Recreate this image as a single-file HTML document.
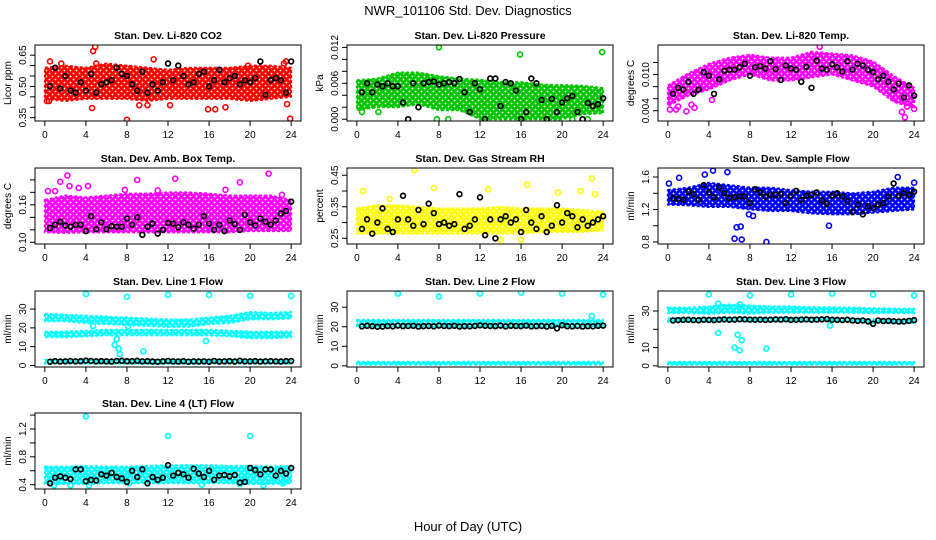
<!DOCTYPE html>
<html><head><meta charset="utf-8"><style>
html,body{margin:0;padding:0;background:#fff;}
svg{display:block;font-family:"Liberation Sans",Arial,sans-serif;}
</style></head><body>
<svg id="chart" width="936" height="540" viewBox="0 0 936 540" xmlns="http://www.w3.org/2000/svg">
<defs id="defs"></defs>
<text x="468" y="15" text-anchor="middle" font-size="13">NWR_101106  Std. Dev. Diagnostics</text>
<text x="468" y="531" text-anchor="middle" font-size="13">Hour of Day (UTC)</text>
</svg>
<script>
const bandHours=[0,2,4,6,8,10,12,14,16,18,20,22,24];
const blackHours=[0.5,1,1.5,2,2.5,3,3.5,4,4.5,5,5.5,6,6.5,7,7.5,8,8.5,9,9.5,10,10.5,11,11.5,12,12.5,13,13.5,14,14.5,15,15.5,16,16.5,17,17.5,18,18.5,19,19.5,20,20.5,21,21.5,22,22.5,23,23.5,24];
const xTicks=[0,4,8,12,16,20,24];

// Panel 1 CO2
const p1Lo=[0.44,0.43,0.44,0.44,0.44,0.43,0.44,0.44,0.44,0.44,0.43,0.44,0.45];
const p1Hi=[0.59,0.6,0.59,0.61,0.6,0.59,0.58,0.59,0.59,0.59,0.6,0.6,0.59];
const p1OutX=[0.2,0.4,4.6,4.7,4.9,5.0,8.0,9.2,10.0,10.6,12.2,15.9,16.6,17.6,19.8,23.3,23.5,23.6,23.9,0.5,1.6];
const p1OutY=[0.43,0.43,0.396,0.67,0.69,0.61,0.34,0.41,0.41,0.63,0.41,0.39,0.39,0.40,0.60,0.61,0.62,0.415,0.345,0.62,0.61];
const p1Black=[0.50,0.59,0.49,0.55,0.48,0.47,0.52,0.48,0.56,0.47,0.51,0.52,0.53,0.59,0.56,0.55,0.51,0.48,0.57,0.47,0.51,0.48,0.52,0.61,0.53,0.60,0.55,0.51,0.52,0.56,0.57,0.50,0.53,0.58,0.52,0.54,0.55,0.51,0.53,0.52,0.54,0.62,0.46,0.53,0.54,0.53,0.47,0.62];
// Panel 2 Pressure
const p2Lo=[0.0015,0.002,0.002,0.0025,0.0015,0.0015,0,0,0,0,0,0.0008,0.001];
const p2Hi=[0.0065,0.0068,0.0078,0.0078,0.0072,0.0068,0.0066,0.0062,0.0062,0.0058,0.0057,0.0056,0.0052];
const p2OutX=[8.0,15.9,23.9,7.8,8.9,0.5,2.1,22.5,21.0,19.5];
const p2OutY=[0.012,0.0108,0.0112,0,0,0.0012,0.0012,0,0,0];
const p2Black=[0.0045,0.006,0.0045,0.0058,0.0055,0.006,0.0055,0.0055,0.0028,0.0,0.006,0.002,0.006,0.0062,0.0063,0.0058,0.006,0.0062,0.006,0.0067,0.0045,0.0012,0.006,0.005,0.0,0.0068,0.0068,0.0022,0.0062,0.006,0.0048,0.0,0.0012,0.0068,0.006,0.0032,0.0,0.0034,0.0012,0.0028,0.0035,0.0039,0.0012,0.0,0.0027,0.0022,0.0025,0.0035];
// Panel 3 Li-820 Temp
const p3Lo=[0.0048,0.0065,0.0075,0.009,0.01,0.009,0.009,0.0095,0.01,0.009,0.008,0.0055,0.0045];
const p3Hi=[0.0082,0.0102,0.0118,0.0128,0.0133,0.0128,0.0128,0.0138,0.0135,0.0132,0.0122,0.0098,0.0078];
const p3OutX=[0.2,0.8,1.0,1.8,2.3,2.6,22.8,23.1,23.3,24.0,14.8,4.3];
const p3OutY=[0.0042,0.0042,0.0047,0.0039,0.005,0.0045,0.0038,0.0029,0.0047,0.0043,0.0146,0.0058];
const p3Black=[0.0068,0.0078,0.0075,0.0088,0.0068,0.0075,0.0104,0.0098,0.0068,0.0092,0.0106,0.0108,0.0108,0.0112,0.0118,0.0098,0.0112,0.0114,0.011,0.0122,0.0109,0.0091,0.0115,0.011,0.0108,0.0088,0.0113,0.0078,0.0123,0.011,0.0108,0.0117,0.0112,0.0105,0.0122,0.0108,0.0118,0.0115,0.0108,0.0104,0.0092,0.0098,0.0088,0.0075,0.0085,0.0062,0.0082,0.0065];
// Panel 4 Amb Box Temp
const p4Lo=[0.116,0.115,0.116,0.116,0.116,0.116,0.116,0.116,0.116,0.116,0.118,0.118,0.118];
const p4Hi=[0.168,0.175,0.172,0.175,0.178,0.178,0.18,0.18,0.178,0.175,0.175,0.175,0.168];
const p4OutX=[1.5,2.2,2.4,3.3,9.0,12.7,19.0,21.8,23.1,0.3,7.8,11.0,17.6,4.2,1.0];
const p4OutY=[0.197,0.207,0.19,0.187,0.2,0.202,0.196,0.21,0.176,0.182,0.184,0.183,0.184,0.19,0.182];
const p4Black=[0.123,0.128,0.133,0.127,0.125,0.128,0.128,0.118,0.142,0.121,0.132,0.121,0.126,0.125,0.125,0.138,0.128,0.14,0.112,0.125,0.13,0.114,0.12,0.131,0.13,0.124,0.132,0.128,0.122,0.128,0.142,0.13,0.12,0.128,0.118,0.135,0.129,0.12,0.144,0.132,0.127,0.138,0.133,0.128,0.135,0.146,0.15,0.165];
// Panel 5 RH
const p5Lo=[0.265,0.265,0.265,0.265,0.265,0.265,0.265,0.265,0.265,0.27,0.27,0.27,0.275];
const p5Hi=[0.345,0.355,0.355,0.35,0.345,0.345,0.345,0.35,0.345,0.345,0.345,0.34,0.335];
const p5OutX=[5.6,22.9,16.6,7.5,0.6,12.8,21.8,16.0,14.0,19.6,23.2,3.2];
const p5OutY=[0.466,0.44,0.42,0.41,0.40,0.405,0.40,0.245,0.245,0.395,0.39,0.375];
const p5Black=[0.28,0.31,0.265,0.3,0.345,0.28,0.27,0.31,0.385,0.31,0.29,0.34,0.295,0.36,0.33,0.295,0.3,0.29,0.295,0.39,0.28,0.29,0.31,0.38,0.26,0.31,0.25,0.31,0.32,0.3,0.31,0.27,0.34,0.3,0.28,0.32,0.27,0.29,0.355,0.3,0.33,0.32,0.285,0.31,0.29,0.3,0.31,0.32];
// Panel 6 Sample Flow
const p6Lo=[1.26,1.25,1.23,1.23,1.2,1.18,1.18,1.15,1.14,1.14,1.16,1.18,1.2];
const p6Hi=[1.44,1.47,1.53,1.5,1.47,1.47,1.44,1.42,1.42,1.4,1.42,1.47,1.47];
const p6OutX=[6.5,6.7,7.1,7.2,9.6,15.7,4.4,5.8,22.4,0.1,1.1,3.6,7.9,8.3,24.0];
const p6OutY=[0.84,0.98,0.99,0.83,0.8,1.0,1.68,1.66,1.6,1.52,1.59,1.63,1.14,1.12,1.53];
const p6Black=[1.34,1.33,1.32,1.42,1.39,1.32,1.5,1.41,1.35,1.47,1.4,1.34,1.35,1.36,1.36,1.28,1.45,1.41,1.36,1.38,1.38,1.39,1.28,1.37,1.43,1.32,1.37,1.38,1.41,1.31,1.27,1.37,1.4,1.36,1.3,1.17,1.26,1.14,1.24,1.22,1.26,1.28,1.36,1.52,1.37,1.4,1.38,1.42];
// Panel 7 Line 1
const p7ALo=[23.5,23.5,22.5,22,21.5,21,20.5,20.5,22,22.5,24.5,24.5,25];
const p7AHi=[27.5,27,26.5,26,25.5,25,24.5,24.5,25.5,26.5,28.5,28,28.5];
const p7BLo=[15,15,15.5,16,16,16,16,16,16,15.5,14.5,14.5,15];
const p7BHi=[18,18,18.5,19,19,19,19,19,19,18.5,18,18,18];
const p7CLo=[1.0,1.0,1.0,1.0,1.0,1.0,1.0,1.0,1.0,1.0,1.0,1.0,1.0];
const p7CHi=[3.0,3.0,3.0,3.0,3.0,3.0,3.0,3.0,3.0,3.0,3.0,3.0,3.0];
const p7OutX=[4,8,12,16,20,24,6.8,7.0,7.2,7.3,9.6,15.7,8.1,4.7];
const p7OutY=[38,36.5,37.5,37.5,37,37,11,14,9,6,7.5,13,21,21];
const p7Black=[2,2.3,2.1,2.2,2.4,2.2,2.3,2.6,2.4,2.2,2.3,2.2,2.1,2.4,2.5,2.3,2.3,2.5,2.2,2.3,2.1,2,2.2,2.4,2.2,2.1,2.3,2,2.2,2.1,2.2,2,2.4,2.1,2.2,2.3,2.1,2.5,2.2,2.2,2.3,2.1,2.2,2.3,2.2,2.1,2.3,2.4];
// Panel 8 Line 2
const p8ALo=[19.8,19.8,19.8,19.8,19.8,19.8,19.8,19.8,19.8,19.8,19.8,19.8,19.8];
const p8AHi=[23.5,23.5,23.5,23.5,23.5,23.5,23.5,23.5,23.5,23.5,23.5,23.5,23.5];
const p8CLo=[0.6,0.6,0.6,0.6,0.6,0.6,0.6,0.6,0.6,0.6,0.6,0.6,0.6];
const p8CHi=[2.0,2.0,2.0,2.0,2.0,2.0,2.0,2.0,2.0,2.0,2.0,2.0,2.0];
const p8OutX=[4,8,12,16,20,24,22.9];
const p8OutY=[37,35.5,37,37.5,37,36.5,25.5];
const p8Black=[20.2,20.5,20.3,20,20.1,20.4,20.2,20.6,20.3,20.4,20.5,20.1,20.3,20.4,20.2,20.6,20.4,20.3,20.5,20.1,20.3,20.2,20.4,20.7,20.5,20.4,20.3,20.6,20.2,20.5,20.4,20.3,20.6,20.2,20.3,20.4,20.1,20.5,19.2,20.8,20.3,20.2,20.4,20.1,20.3,20.2,20.5,20.6];
// Panel 9 Line 3
const p9ALo=[28.8,28.8,28.5,29,28.5,29,29,29,29,29,28.8,28.8,28.8];
const p9AHi=[31.8,31.8,32.5,33.5,33,32.5,32.5,32,32,31.8,31.5,31.3,31.3];
const p9BLo=[24,24,24.2,24.3,24.3,24.3,24.3,24.3,24.2,24,23.5,23.3,23.5];
const p9BHi=[26,26,26,26.2,26.2,26.2,26.2,26.2,26,25.8,25.5,25.2,25.5];
const p9CLo=[0.6,0.6,0.6,0.6,0.6,0.6,0.6,0.6,0.6,0.6,0.6,0.6,0.6];
const p9CHi=[2.2,2.2,2.2,2.2,2.2,2.2,2.2,2.2,2.2,2.2,2.2,2.2,2.2];
const p9OutX=[4,8,12,16,20,24,4.9,6.5,6.8,7.0,7.2,9.6,15.8,4.9,7.0,5.3];
const p9OutY=[39,38.5,39,39.5,39,38.5,18,10,17,8.5,14,9.5,22,34,33.5,32];
const p9Black=[24.8,25,25.1,25.2,25,24.9,25.2,25.1,25,25.2,25.4,25.2,25.3,25.5,25.4,25.3,25.2,25.3,25.1,25.2,25.4,25.3,25.5,25.1,25.2,25.3,25.4,25.2,25.3,25.4,25.6,25.2,25.1,25,25.2,24.8,24.6,24.8,24.3,23,24.8,24.5,24.6,24.4,24.2,24.3,24.6,25];
// Panel 10 Line 4
const p10Lo=[0.41,0.41,0.41,0.42,0.42,0.42,0.42,0.42,0.42,0.42,0.41,0.41,0.42];
const p10Hi=[0.66,0.66,0.67,0.66,0.66,0.67,0.68,0.68,0.68,0.67,0.67,0.66,0.67];
const p10OutX=[4,12,20,0.9,2.5,4.3,8.2,15.3,19.0,21.3,23.2];
const p10OutY=[1.38,1.1,1.1,0.39,0.39,0.39,0.42,0.4,0.41,0.39,0.42];
const p10Black=[0.42,0.5,0.52,0.5,0.48,0.62,0.62,0.45,0.47,0.46,0.55,0.53,0.57,0.51,0.49,0.44,0.6,0.51,0.62,0.42,0.51,0.47,0.5,0.68,0.53,0.57,0.55,0.5,0.63,0.56,0.51,0.6,0.47,0.53,0.54,0.52,0.54,0.43,0.44,0.64,0.61,0.55,0.62,0.62,0.53,0.6,0.56,0.64];

const NS="http://www.w3.org/2000/svg";
const svg=document.getElementById('chart');
const defs=document.getElementById('defs');
const W=266,H=76;
const panels=[
 {key:'co2',title:'Stan. Dev. Li-820 CO2',yl:'Licor ppm',L:35,T:45,ymin:0.334,ymax:0.699,col:'#ff0000',ticks:[0.35,0.4,0.45,0.5,0.55,0.6,0.65],labs:['0.35','','','0.50','','','0.65'],bands:[[p1Lo,p1Hi]],ox:p1OutX,oy:p1OutY,blk:p1Black},
 {key:'pressure',title:'Stan. Dev. Li-820 Pressure',yl:'kPa',L:347,T:45,ymin:-0.0003,ymax:0.0124,col:'#00c400',ticks:[0,0.002,0.004,0.006,0.008,0.01,0.012],labs:['0.000','','','0.006','','','0.012'],bands:[[p2Lo,p2Hi]],ox:p2OutX,oy:p2OutY,blk:p2Black},
 {key:'li820-temp',title:'Stan. Dev. Li-820 Temp.',yl:'degrees C',L:658,T:45,ymin:0.0023,ymax:0.0149,col:'#ff00ff',ticks:[0.004,0.006,0.008,0.01,0.012],labs:['0.004','','','0.010',''],bands:[[p3Lo,p3Hi]],ox:p3OutX,oy:p3OutY,blk:p3Black},
 {key:'amb-box-temp',title:'Stan. Dev. Amb. Box Temp.',yl:'degrees C',L:35,T:168,ymin:0.0973,ymax:0.219,col:'#ff00ff',ticks:[0.1,0.12,0.14,0.16,0.18,0.2],labs:['0.10','','','0.16','',''],bands:[[p4Lo,p4Hi]],ox:p4OutX,oy:p4OutY,blk:p4Black},
 {key:'gas-rh',title:'Stan. Dev. Gas Stream RH',yl:'percent',L:347,T:168,ymin:0.232,ymax:0.473,col:'#ffff00',ticks:[0.25,0.3,0.35,0.4,0.45],labs:['0.25','','0.35','','0.45'],bands:[[p5Lo,p5Hi]],ox:p5OutX,oy:p5OutY,blk:p5Black},
 {key:'sample-flow',title:'Stan. Dev. Sample Flow',yl:'ml/min',L:658,T:168,ymin:0.775,ymax:1.711,col:'#0000ff',ticks:[0.8,1.0,1.2,1.4,1.6],labs:['0.8','','1.2','','1.6'],bands:[[p6Lo,p6Hi]],ox:p6OutX,oy:p6OutY,blk:p6Black},
 {key:'line1-flow',title:'Stan. Dev. Line 1 Flow',yl:'ml/min',L:35,T:291,ymin:-0.8,ymax:39.6,col:'#00ffff',ticks:[0,10,20,30],labs:['0','10','20','30'],bands:[[p7ALo,p7AHi],[p7BLo,p7BHi],[p7CLo,p7CHi]],ox:p7OutX,oy:p7OutY,blk:p7Black},
 {key:'line2-flow',title:'Stan. Dev. Line 2 Flow',yl:'ml/min',L:347,T:291,ymin:-0.6,ymax:38.3,col:'#00ffff',ticks:[0,10,20,30],labs:['0','10','20','30'],bands:[[p8ALo,p8AHi],[p8CLo,p8CHi]],ox:p8OutX,oy:p8OutY,blk:p8Black},
 {key:'line3-flow',title:'Stan. Dev. Line 3 Flow',yl:'ml/min',L:658,T:291,ymin:-0.6,ymax:40.9,col:'#00ffff',ticks:[0,10,20,30],labs:['0','10','','30'],bands:[[p9ALo,p9AHi],[p9BLo,p9BHi],[p9CLo,p9CHi]],ox:p9OutX,oy:p9OutY,blk:p9Black},
 {key:'line4-flow',title:'Stan. Dev. Line 4 (LT) Flow',yl:'ml/min',L:35,T:413,ymin:0.338,ymax:1.43,col:'#00ffff',ticks:[0.4,0.6,0.8,1.0,1.2,1.4],labs:['0.4','','0.8','','1.2',''],bands:[[p10Lo,p10Hi]],ox:p10OutX,oy:p10OutY,blk:p10Black}
];
function mk(tag,attrs,parent){const e=document.createElementNS(NS,tag);for(const k in attrs)e.setAttribute(k,attrs[k]);(parent||svg).appendChild(e);return e;}
const patMade={};
function pattern(col){
  const id='pat'+col.replace('#','');
  if(patMade[id])return id;
  patMade[id]=1;
  const p=mk('pattern',{id:id,width:6,height:6,patternUnits:'userSpaceOnUse'},defs);
  mk('rect',{x:0,y:0,width:6,height:6,fill:col},p);
  mk('circle',{cx:1.5,cy:1.5,r:0.9,fill:'#fff'},p);
  mk('circle',{cx:4.5,cy:4.5,r:0.9,fill:'#fff'},p);
  return id;
}
panels.forEach(p=>{
  const g=mk('g',{});
  
  
  const xs=h=>p.L+(h+0.96)/25.92*W;
  const ys=v=>p.T+H-(v-p.ymin)/(p.ymax-p.ymin)*H;
  const clip=mk('clipPath',{id:'c-'+p.key},g);
  mk('rect',{x:p.L,y:p.T,width:W,height:H},clip);
  const dg=mk('g',{'clip-path':'url(#c-'+p.key+')'},g);
  const pid=pattern(p.col);
  p.bands.forEach((b,bi)=>{
    let pts=bandHours.map((h,i)=>xs(h)+','+ys(b[1][i]));
    pts=pts.concat(bandHours.map((h,i)=>[h,i]).reverse().map(([h,i])=>xs(h)+','+ys(b[0][i])));
    const poly=mk('polygon',{points:pts.join(' '),fill:'url(#'+pid+')',stroke:p.col,'stroke-width':2,'stroke-dasharray':'3 2','stroke-linejoin':'round'},dg);
    
    
  });
  p.ox.forEach((h,i)=>{
    const c=mk('circle',{cx:xs(h),cy:ys(p.oy[i]),r:2.5,fill:'none',stroke:p.col,'stroke-width':1.6},dg);
    
    
  });
  p.blk.forEach((v,i)=>{
    const c=mk('circle',{cx:xs(blackHours[i]),cy:ys(v),r:2.4,fill:'none',stroke:'#000','stroke-width':1.7},dg);
    
    
  });
  const box=mk('rect',{x:p.L,y:p.T,width:W,height:H,fill:'none',stroke:'#000','stroke-width':1},g);
  
  
  const t=mk('text',{x:p.L+W/2,y:p.T-6,'text-anchor':'middle','font-size':10.5,'font-weight':'bold'},g);
  t.textContent=p.title;
  
  
  mk('line',{x1:xs(0),x2:xs(24),y1:p.T+H,y2:p.T+H,stroke:'#000'},g);
  xTicks.forEach(h=>{
    mk('line',{x1:xs(h),x2:xs(h),y1:p.T+H,y2:p.T+H+5,stroke:'#000'},g);
    const tl=mk('text',{x:xs(h),y:p.T+H+17,'text-anchor':'middle','font-size':10},g);
    tl.textContent=h;
    
    
  });
  mk('line',{x1:p.L,x2:p.L,y1:ys(p.ticks[0]),y2:ys(p.ticks[p.ticks.length-1]),stroke:'#000'},g);
  p.ticks.forEach((v,i)=>{
    mk('line',{x1:p.L-5,x2:p.L,y1:ys(v),y2:ys(v),stroke:'#000'},g);
    if(p.labs[i]){
      const yl=mk('text',{x:0,y:0,'text-anchor':'middle','font-size':10,transform:'translate('+(p.L-9)+','+ys(v)+') rotate(-90)'},g);
      yl.textContent=p.labs[i];
      
      
    }
  });
  const ya=mk('text',{x:0,y:0,'text-anchor':'middle','font-size':10,transform:'translate('+(p.L-24)+','+(p.T+H/2)+') rotate(-90)'},g);
  ya.textContent=p.yl;
  
  
});
</script>
</body></html>
